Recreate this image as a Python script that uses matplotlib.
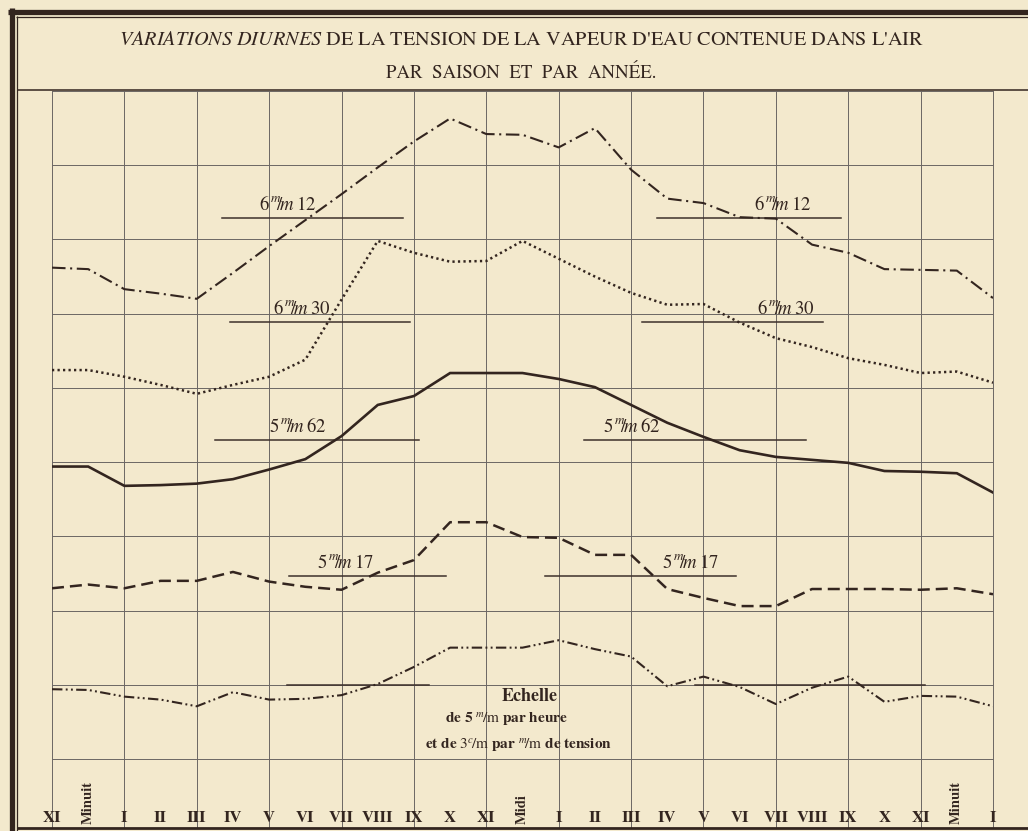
import numpy as np
import matplotlib
matplotlib.use('Agg')
import matplotlib.pyplot as plt
from matplotlib.lines import Line2D

# -----------------------------
# data (hours run from XI the evening before to I the next morning)
# -----------------------------
hours = list(range(-1, 26))
hour_labels = ['XI', 'Minuit', 'I', 'II', 'III', 'IV', 'V', 'VI', 'VII', 'VIII', 'IX', 'X', 'XI',
               'Midi', 'I', 'II', 'III', 'IV', 'V', 'VI', 'VII', 'VIII', 'IX', 'X', 'XI',
               'Minuit', 'I']

# vertical position of each curve on the sheet (one grid square = 1 unit)
serie_612 = [6.62, 6.60, 6.33, 6.27, 6.20, 6.55, 6.91, 7.26, 7.61, 7.97, 8.32, 8.63, 8.42, 8.41,
             8.24, 8.50, 7.94, 7.55, 7.49, 7.30, 7.28, 6.93, 6.82, 6.60, 6.59, 6.58, 6.21]
serie_630 = [5.24, 5.24, 5.15, 5.04, 4.92, 5.04, 5.15, 5.38, 6.19, 6.98, 6.82, 6.70, 6.71, 6.98,
             6.74, 6.50, 6.28, 6.12, 6.13, 5.88, 5.67, 5.55, 5.40, 5.31, 5.20, 5.22, 5.07]
serie_562 = [3.94, 3.94, 3.68, 3.69, 3.71, 3.77, 3.90, 4.04, 4.35, 4.77, 4.89, 5.20, 5.20, 5.20,
             5.12, 5.01, 4.77, 4.53, 4.34, 4.16, 4.07, 4.03, 3.99, 3.88, 3.87, 3.85, 3.59]
serie_517 = [2.30, 2.35, 2.30, 2.40, 2.40, 2.52, 2.39, 2.32, 2.28, 2.51, 2.68, 3.19, 3.19, 2.99,
             2.98, 2.75, 2.75, 2.29, 2.17, 2.06, 2.06, 2.29, 2.29, 2.29, 2.28, 2.30, 2.22]
serie_bas = [0.94, 0.93, 0.84, 0.80, 0.71, 0.90, 0.80, 0.81, 0.86, 1.01, 1.24, 1.50, 1.50, 1.50,
             1.60, 1.48, 1.38, 0.98, 1.11, 0.97, 0.74, 0.96, 1.11, 0.77, 0.85, 0.84, 0.71]

# mean level of each curve and its value in millimetres
mean_levels = [7.29, 5.89, 4.30, 2.47, 1.00]
mean_whole = ['6', '6', '5', '5', None]
mean_frac = ['12', '30', '62', '17', None]

series = [serie_612, serie_630, serie_562, serie_517, serie_bas]

# -----------------------------
# layout / styles
# -----------------------------
paper = '#f3e9cd'
ink = '#33251f'
grid_c = '#6b6663'

styles = [
    dict(ls=(0, (6.5, 2.2, 1.0, 2.2)), lw=1.5),
    dict(ls=(0, (0.9, 1.3)), lw=1.8),
    dict(ls='-', lw=1.9),
    dict(ls=(0, (4.8, 2.4)), lw=1.8),
    dict(ls=(0, (5, 1.6, 0.9, 1.6, 0.9, 1.6)), lw=1.5),
]
# hour extents of the mean segments (left, right) and label centres
seg_left = [(3.70, 8.70), (3.92, 8.89), (3.50, 9.14), (5.55, 9.88), (5.49, 9.41)]
seg_right = [(15.71, 20.80), (15.30, 20.30), (13.70, 19.83), (12.62, 17.90), (16.76, 23.12)]
lab_left = [5.52, 5.91, 5.80, 7.12, None]
lab_right = [19.19, 19.28, 15.02, 16.65, None]

W, H = 1028, 831
plt.rcParams['font.family'] = ['STIXGeneral', 'DejaVu Serif']
plt.rcParams['mathtext.fontset'] = 'stix'

fig = plt.figure(figsize=(W / 100, H / 100), dpi=100, facecolor=paper)


def fx(x):
    return x / W


def fy(y):
    return 1 - y / H


def fig_line(x0, y0, x1, y1, lw, color=ink):
    fig.add_artist(Line2D([fx(x0), fx(x1)], [fy(y0), fy(y1)], transform=fig.transFigure,
                          color=color, lw=lw, solid_capstyle='butt'))


# frame of the sheet
fig_line(11.5, 8, 11.5, H, 3.8)
fig_line(8, 11.5, W, 11.5, 3.8)
fig_line(17, 16, 17, H, 0.9)
fig_line(16, 17, W, 17, 0.9)
fig_line(17, 90, W, 90, 1.1)
fig_line(17, 828, W, 828, 2.0)

# title
fig.text(0.507, fy(40), r"$\mathit{VARIATIONS\ DIURNES}$ DE LA TENSION DE LA VAPEUR D'EAU CONTENUE DANS L'AIR",
         ha='center', va='center', fontsize=14.6, color=ink)
fig.text(0.507, fy(73), 'PAR  SAISON  ET  PAR  ANNÉE.', ha='center', va='center',
         fontsize=13.5, color=ink)

ax = fig.add_axes([fx(52), fy(828), fx(993) - fx(52), fy(91) - fy(828)])
ax.set_facecolor(paper)
ax.set_xlim(-1, 25)
ax.set_ylim(-0.93, 9)
ax.axis('off')

for h in range(-1, 26, 2):
    ax.axvline(h, color=grid_c, lw=0.7, clip_on=False, zorder=1)
for v in range(0, 10):
    ax.axhline(v, color=grid_c, lw=0.7, clip_on=False, zorder=1)

for vals, st in zip(series, styles):
    ax.plot(hours, vals, color=ink, linestyle=st['ls'], lw=st['lw'], zorder=3,
            solid_joinstyle='miter')

# mean segments with their labels
for i, lvl in enumerate(mean_levels):
    for a, b in (seg_left[i], seg_right[i]):
        ax.plot([a, b], [lvl, lvl], color='#3d302b', lw=1.1, zorder=2)
    if mean_whole[i] is not None:
        lab = r'$\mathit{%s^{\,m}\!\!/\!m\;%s}$' % (mean_whole[i], mean_frac[i])
        for hc in (lab_left[i], lab_right[i]):
            ax.text(hc, lvl + 0.05, lab, ha='center', va='bottom', fontsize=13.5, color=ink)

# hour labels along the bottom
for h, lab in zip(hours, hour_labels):
    if lab in ('Minuit', 'Midi'):
        ax.text(h, -0.87, lab, rotation=90, ha='center', va='bottom', fontsize=10.5,
                fontweight='bold', color=ink)
    else:
        ax.text(h, -0.80, lab, ha='center', va='center', fontsize=12,
                fontweight='bold', color=ink)

# scale note
ax.text(12.2, 0.84, 'Echelle', ha='center', va='center', fontsize=13, fontweight='bold', color=ink)
ax.text(11.57, 0.53, r'de 5 $\mathrm{}^{m}\!/\mathrm{m}$ par heure', ha='center', va='center',
        fontsize=11, fontweight='bold', color=ink)
ax.text(11.9, 0.19, r'et de $\mathrm{3}^{c}\!/\mathrm{m}$ par $\mathrm{}^{m}\!/\mathrm{m}$ de tension',
        ha='center', va='center', fontsize=11, fontweight='bold', color=ink)

plt.savefig('out.png', dpi=100, facecolor=paper)
plt.close()
